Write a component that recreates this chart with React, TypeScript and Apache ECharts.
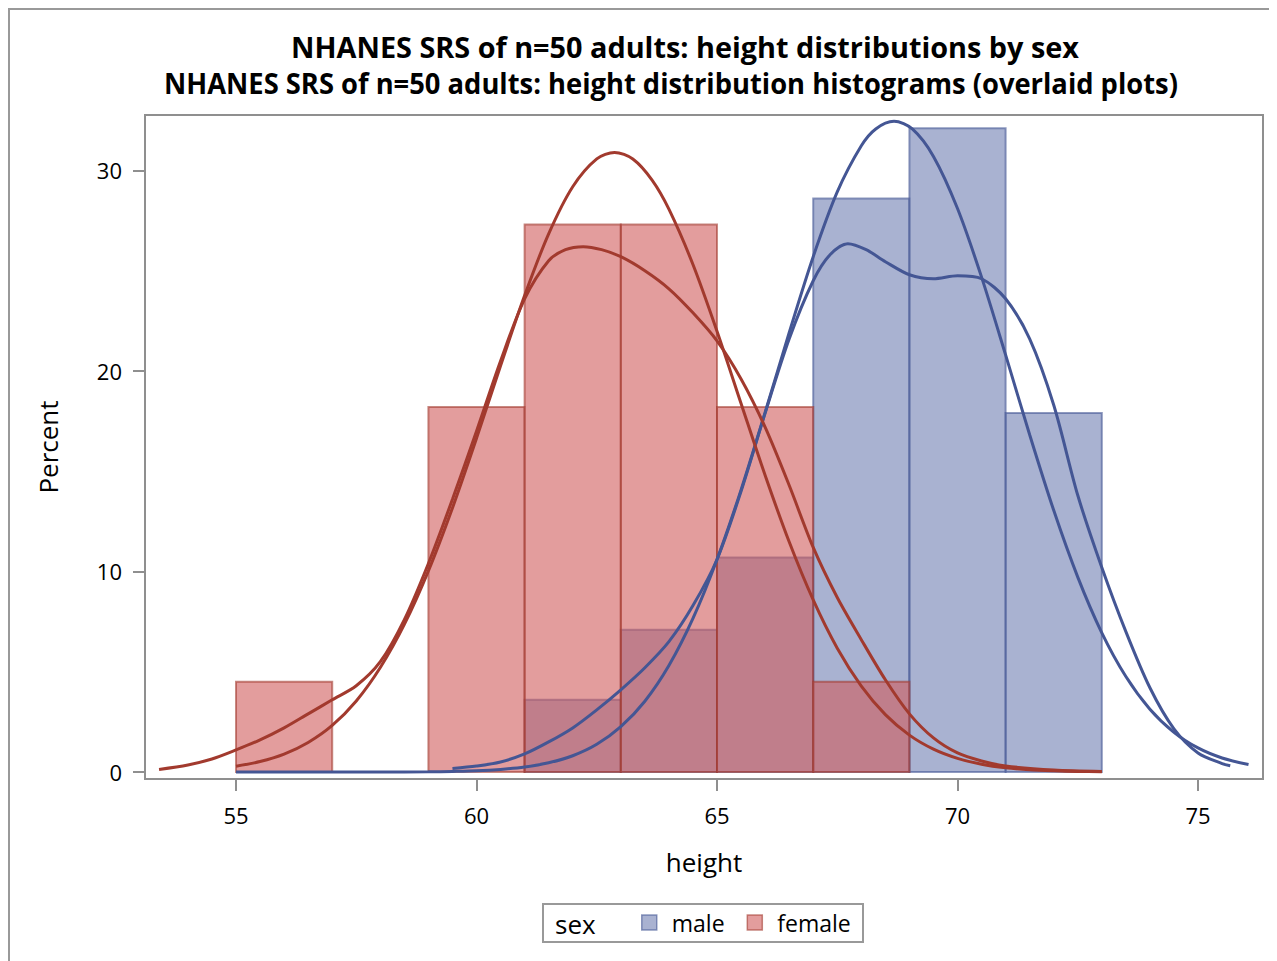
import React, { useEffect, useRef } from "react";
import * as echarts from "echarts";

const titleLine1 = "NHANES SRS of n=50 adults: height distributions by sex";
const titleLine2 = "NHANES SRS of n=50 adults: height distribution histograms (overlaid plots)";
const xAxisTitle = "height";
const yAxisTitle = "Percent";
const legendTitle = "sex";
const groups = ["male", "female"];

const binStarts = [55, 57, 59, 61, 63, 65, 67, 69, 71];
const binWidth = 2;
const malePercent = [0, 0, 0, 3.6, 7.1, 10.7, 28.6, 32.1, 17.9];
const femalePercent = [4.5, 0, 18.2, 27.3, 27.3, 18.2, 4.5, 0, 0];

const xTicks = [55, 60, 65, 70, 75];
const yTicks = [0, 10, 20, 30];

const maleNormal: [number, number][] = [
  [55, 0], [56, 0], [57, 0], [58, 0], [59, 0.01], [59.5, 0.03], [60, 0.06], [60.5, 0.13],
  [61, 0.25], [61.5, 0.46], [62, 0.81], [62.5, 1.38], [63, 2.26], [63.5, 3.53], [64, 5.31],
  [64.5, 7.66], [65, 10.6], [65.5, 14.07], [66, 17.93], [66.5, 21.91], [67, 25.7],
  [67.5, 28.93], [68, 31.23], [68.3, 32.07], [68.68, 32.45], [69.06, 32.07], [69.5, 30.7],
  [70, 28.1], [70.5, 24.68], [71, 20.8], [71.5, 16.82], [72, 13.05], [72.5, 9.72],
  [73, 6.94], [73.5, 4.76], [74, 3.13], [74.5, 1.98], [75, 1.2], [75.5, 0.7], [76.05, 0.37],
];

const maleKernel: [number, number][] = [
  [59.5, 0.18], [60, 0.3], [60.5, 0.5], [61, 0.9], [61.5, 1.5], [62, 2.2], [62.5, 3.1],
  [63, 4.1], [63.5, 5.2], [64, 6.5], [64.5, 8.3], [65, 10.6], [65.5, 14.0], [66, 17.9],
  [66.5, 21.6], [67, 24.5], [67.35, 25.8], [67.72, 26.35], [68.1, 26.05], [68.5, 25.45],
  [69, 24.8], [69.5, 24.6], [70, 24.75], [70.5, 24.6], [71, 23.6],
  [71.5, 21.6], [72, 18.3], [72.5, 13.8], [73, 10.2], [73.5, 7.0], [74, 4.2],
  [74.5, 2.15], [75, 0.95], [75.5, 0.42], [75.67, 0.31],
];

const femaleNormal: [number, number][] = [
  [55, 0.29], [55.5, 0.52], [56, 0.89], [56.5, 1.47], [57, 2.32], [57.5, 3.54], [58, 5.21],
  [58.5, 7.36], [59, 10.03], [59.5, 13.17], [60, 16.64], [60.5, 20.26], [61, 23.76],
  [61.5, 26.84], [62, 29.19], [62.5, 30.58], [62.87, 30.9], [63.25, 30.57], [63.65, 29.52],
  [64, 28.07], [64.5, 25.31], [65, 21.98], [65.5, 18.38], [66, 14.8], [66.5, 11.48], [67, 8.58],
  [67.5, 6.17], [68, 4.28], [68.5, 2.86], [69, 1.84], [69.5, 1.14], [70, 0.68],
  [70.5, 0.39], [71, 0.21], [71.5, 0.11], [72, 0.06], [72.5, 0.03], [73, 0.01],
];

const femaleKernel: [number, number][] = [
  [53.4, 0.13], [54, 0.35], [54.5, 0.65], [55, 1.1], [55.5, 1.6], [56, 2.2], [56.5, 2.9],
  [57, 3.6], [57.5, 4.3], [58, 5.5], [58.5, 7.6], [59, 10.4], [59.5, 13.6], [60, 17.0],
  [60.5, 20.5], [61, 23.6], [61.5, 25.5], [61.85, 26.05], [62.22, 26.2], [62.6, 26.05],
  [63, 25.7], [63.5, 25.0], [64, 24.1], [64.5, 22.9], [65, 21.5], [65.5, 19.6],
  [66, 17.2], [66.5, 14.3], [67, 11.2], [67.5, 8.7], [68, 6.6], [68.5, 4.6], [69, 2.9],
  [69.5, 1.7], [70, 0.95], [70.5, 0.55], [71, 0.3], [72, 0.1], [73, 0.03],
];

const FONT = "'Open Sans', 'DejaVu Sans', sans-serif";
const AXIS_GRAY = "#8f8f8f";
const MALE_FILL = "rgba(111,126,179,0.6)";
const MALE_EDGE = "rgba(68,86,148,0.6)";
const MALE_LINE = "#445694";
const FEMALE_FILL = "rgba(208,91,91,0.6)";
const FEMALE_EDGE = "rgba(162,58,46,0.6)";
const FEMALE_LINE = "#A23A2E";

function histData(pcts: number[]) {
  const out: number[][] = [];
  pcts.forEach((p, i) => {
    if (p > 0) out.push([binStarts[i], binStarts[i] + binWidth, p]);
  });
  return out;
}

function barSeries(name: string, pcts: number[], fill: string, edge: string) {
  return {
    type: "custom",
    name,
    data: histData(pcts),
    encode: { x: [0, 1], y: 2 },
    itemStyle: { color: fill, borderColor: edge, borderWidth: 2 },
    renderItem: (params: any, api: any) => {
      const x0 = api.value(0);
      const x1 = api.value(1);
      const y = api.value(2);
      const p0 = api.coord([x0, y]);
      const p1 = api.coord([x1, 0]);
      return {
        type: "rect",
        shape: { x: p0[0], y: p0[1], width: p1[0] - p0[0], height: p1[1] - p0[1] },
        style: { fill, stroke: edge, lineWidth: 2 },
      };
    },
  };
}

function lineSeries(name: string, data: [number, number][], color: string) {
  return {
    type: "line",
    name: name + "-curve",
    data,
    showSymbol: false,
    smooth: 0.3,
    lineStyle: { color, width: 3 },
    z: 5,
  };
}

export default function App() {
  const ref = useRef<HTMLDivElement>(null);
  useEffect(() => {
    document.documentElement.style.overflow = "hidden";
    if (!ref.current) return;
    const chart = echarts.init(ref.current, undefined, { renderer: "svg" });
    const option: any = {
      animation: false,
      backgroundColor: "#fff",
      grid: {
        left: 135, top: 105, right: 14, bottom: 182,
        show: true, borderColor: AXIS_GRAY, borderWidth: 2, backgroundColor: "transparent",
      },
      xAxis: {
        type: "value", min: 53.108, max: 76.351,
        name: xAxisTitle, nameLocation: "middle", nameGap: 70,
        nameTextStyle: { fontFamily: FONT, fontSize: 26, color: "#000" },
        axisLine: { show: true, onZero: false, lineStyle: { color: AXIS_GRAY, width: 2 } },
        axisTick: { show: true, length: 12, customValues: xTicks, lineStyle: { color: AXIS_GRAY, width: 2 } },
        axisLabel: { customValues: xTicks, fontFamily: FONT, fontSize: 22, color: "#000", margin: 25 },
        splitLine: { show: false },
      },
      yAxis: {
        type: "value", min: -0.349, max: 32.766,
        name: yAxisTitle, nameLocation: "middle", nameGap: 84, nameRotate: 90,
        nameTextStyle: { fontFamily: FONT, fontSize: 26, color: "#000" },
        axisLine: { show: true, onZero: false, lineStyle: { color: AXIS_GRAY, width: 2 } },
        axisTick: { show: true, length: 12, customValues: yTicks, lineStyle: { color: AXIS_GRAY, width: 2 } },
        axisLabel: { customValues: yTicks, fontFamily: FONT, fontSize: 22, color: "#000", margin: 23 },
        splitLine: { show: false },
      },
      legend: {
        left: 626, top: 896, icon: "rect", itemWidth: 15, itemHeight: 15, itemGap: 22,
        textStyle: { fontFamily: FONT, fontSize: 23, color: "#000", padding: [0, 0, 0, 10] },
        data: [
          { name: groups[0], itemStyle: { color: MALE_FILL, borderColor: MALE_EDGE, borderWidth: 1.5 } },
          { name: groups[1], itemStyle: { color: FEMALE_FILL, borderColor: FEMALE_EDGE, borderWidth: 1.5 } },
        ],
      },
      graphic: [
        {
          type: "text", x: 675, y: 37, scaleX: 1.03,
          style: { text: titleLine1, font: `bold 28px ${FONT}`, fill: "#000", align: "center", verticalAlign: "middle" },
        },
        {
          type: "text", x: 661, y: 73, scaleX: 0.977,
          style: { text: titleLine2, font: `bold 28px ${FONT}`, fill: "#000", align: "center", verticalAlign: "middle" },
        },
        {
          type: "rect", shape: { x: 533, y: 894, width: 320, height: 38 },
          style: { fill: "none", stroke: "#999", lineWidth: 2 },
        },
        {
          type: "text", x: 545, y: 914,
          style: { text: legendTitle, font: `26px ${FONT}`, fill: "#000", align: "left", verticalAlign: "middle" },
        },
      ],
      series: [
        barSeries(groups[0], malePercent, MALE_FILL, MALE_EDGE),
        barSeries(groups[1], femalePercent, FEMALE_FILL, FEMALE_EDGE),
        lineSeries("maleNormal", maleNormal, MALE_LINE),
        lineSeries("maleKernel", maleKernel, MALE_LINE),
        lineSeries("femaleNormal", femaleNormal, FEMALE_LINE),
        lineSeries("femaleKernel", femaleKernel, FEMALE_LINE),
      ],
    };
    chart.setOption(option);
    return () => chart.dispose();
  }, []);
  return (
    <div style={{ borderTop: "2px solid #999", borderLeft: "2px solid #999", width: 1267, height: 951 }}>
      <div ref={ref} style={{ width: 1267, height: 951 }} />
    </div>
  );
}
